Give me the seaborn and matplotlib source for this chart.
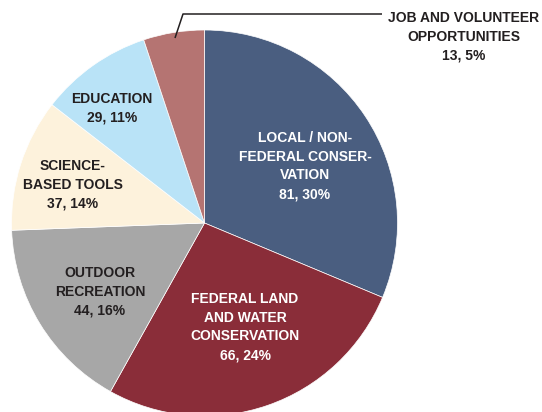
import matplotlib.pyplot as plt
import seaborn as sns

# 数据
categories = ['LOCAL / NON-\nFEDERAL CONSER-\nVATION', 'FEDERAL LAND\nAND WATER\nCONSERVATION',
              'OUTDOOR\nRECREATION', 'SCIENCE-\nBASED TOOLS', 'EDUCATION',
              'JOB AND VOLUNTEER\nOPPORTUNITIES']
counts = [81, 66, 44, 37, 29, 13]
percents = [30, 24, 16, 14, 11, 5]
# 图中扇形实际所占比例（从图上量得，与标注略有出入）
slice_shares = [31.3, 26.8, 16.3, 11.1, 9.4, 5.1]
colors = ['#4a5e80', '#8a2d39', '#a7a7a7', '#fdf2dc', '#b9e3f7', '#b57472']
text_colors = ['white', 'white', '#231f20', '#231f20', '#231f20', '#231f20']

sns.set_theme(style='white')
plt.rcParams['font.family'] = ['Liberation Sans', 'DejaVu Sans']

fig = plt.figure(figsize=(5.42, 4.12), dpi=100)
ax = fig.add_axes([0, 0, 1, 1])
ax.pie(slice_shares, colors=colors, startangle=90, counterclock=False,
       center=(204.5, 189), radius=193,
       wedgeprops={'edgecolor': 'white', 'linewidth': 0.5})
ax.set_xlim(0, 542)
ax.set_ylim(0, 412)
ax.set_aspect('equal')
ax.axis('off')

# 标签位置（像素坐标）
label_pos = [(305, 412 - 166), (245, 412 - 327), (100, 412 - 292),
             (73, 412 - 185), (112, 412 - 108), (464, 412 - 37)]
for cat, n, p, (x, y), tc in zip(categories, counts, percents, label_pos, text_colors):
    ax.text(x, y, f'{cat}\n{n}, {p}%', ha='center', va='center', fontsize=10,
            fontweight='bold', color=tc, linespacing=1.45)

# 引线
ax.plot([175, 183, 382], [412 - 38, 412 - 14, 412 - 14], color='#231f20', lw=1.1,
        solid_capstyle='butt', clip_on=False)

fig.savefig('out.png', dpi=100, facecolor='white')
